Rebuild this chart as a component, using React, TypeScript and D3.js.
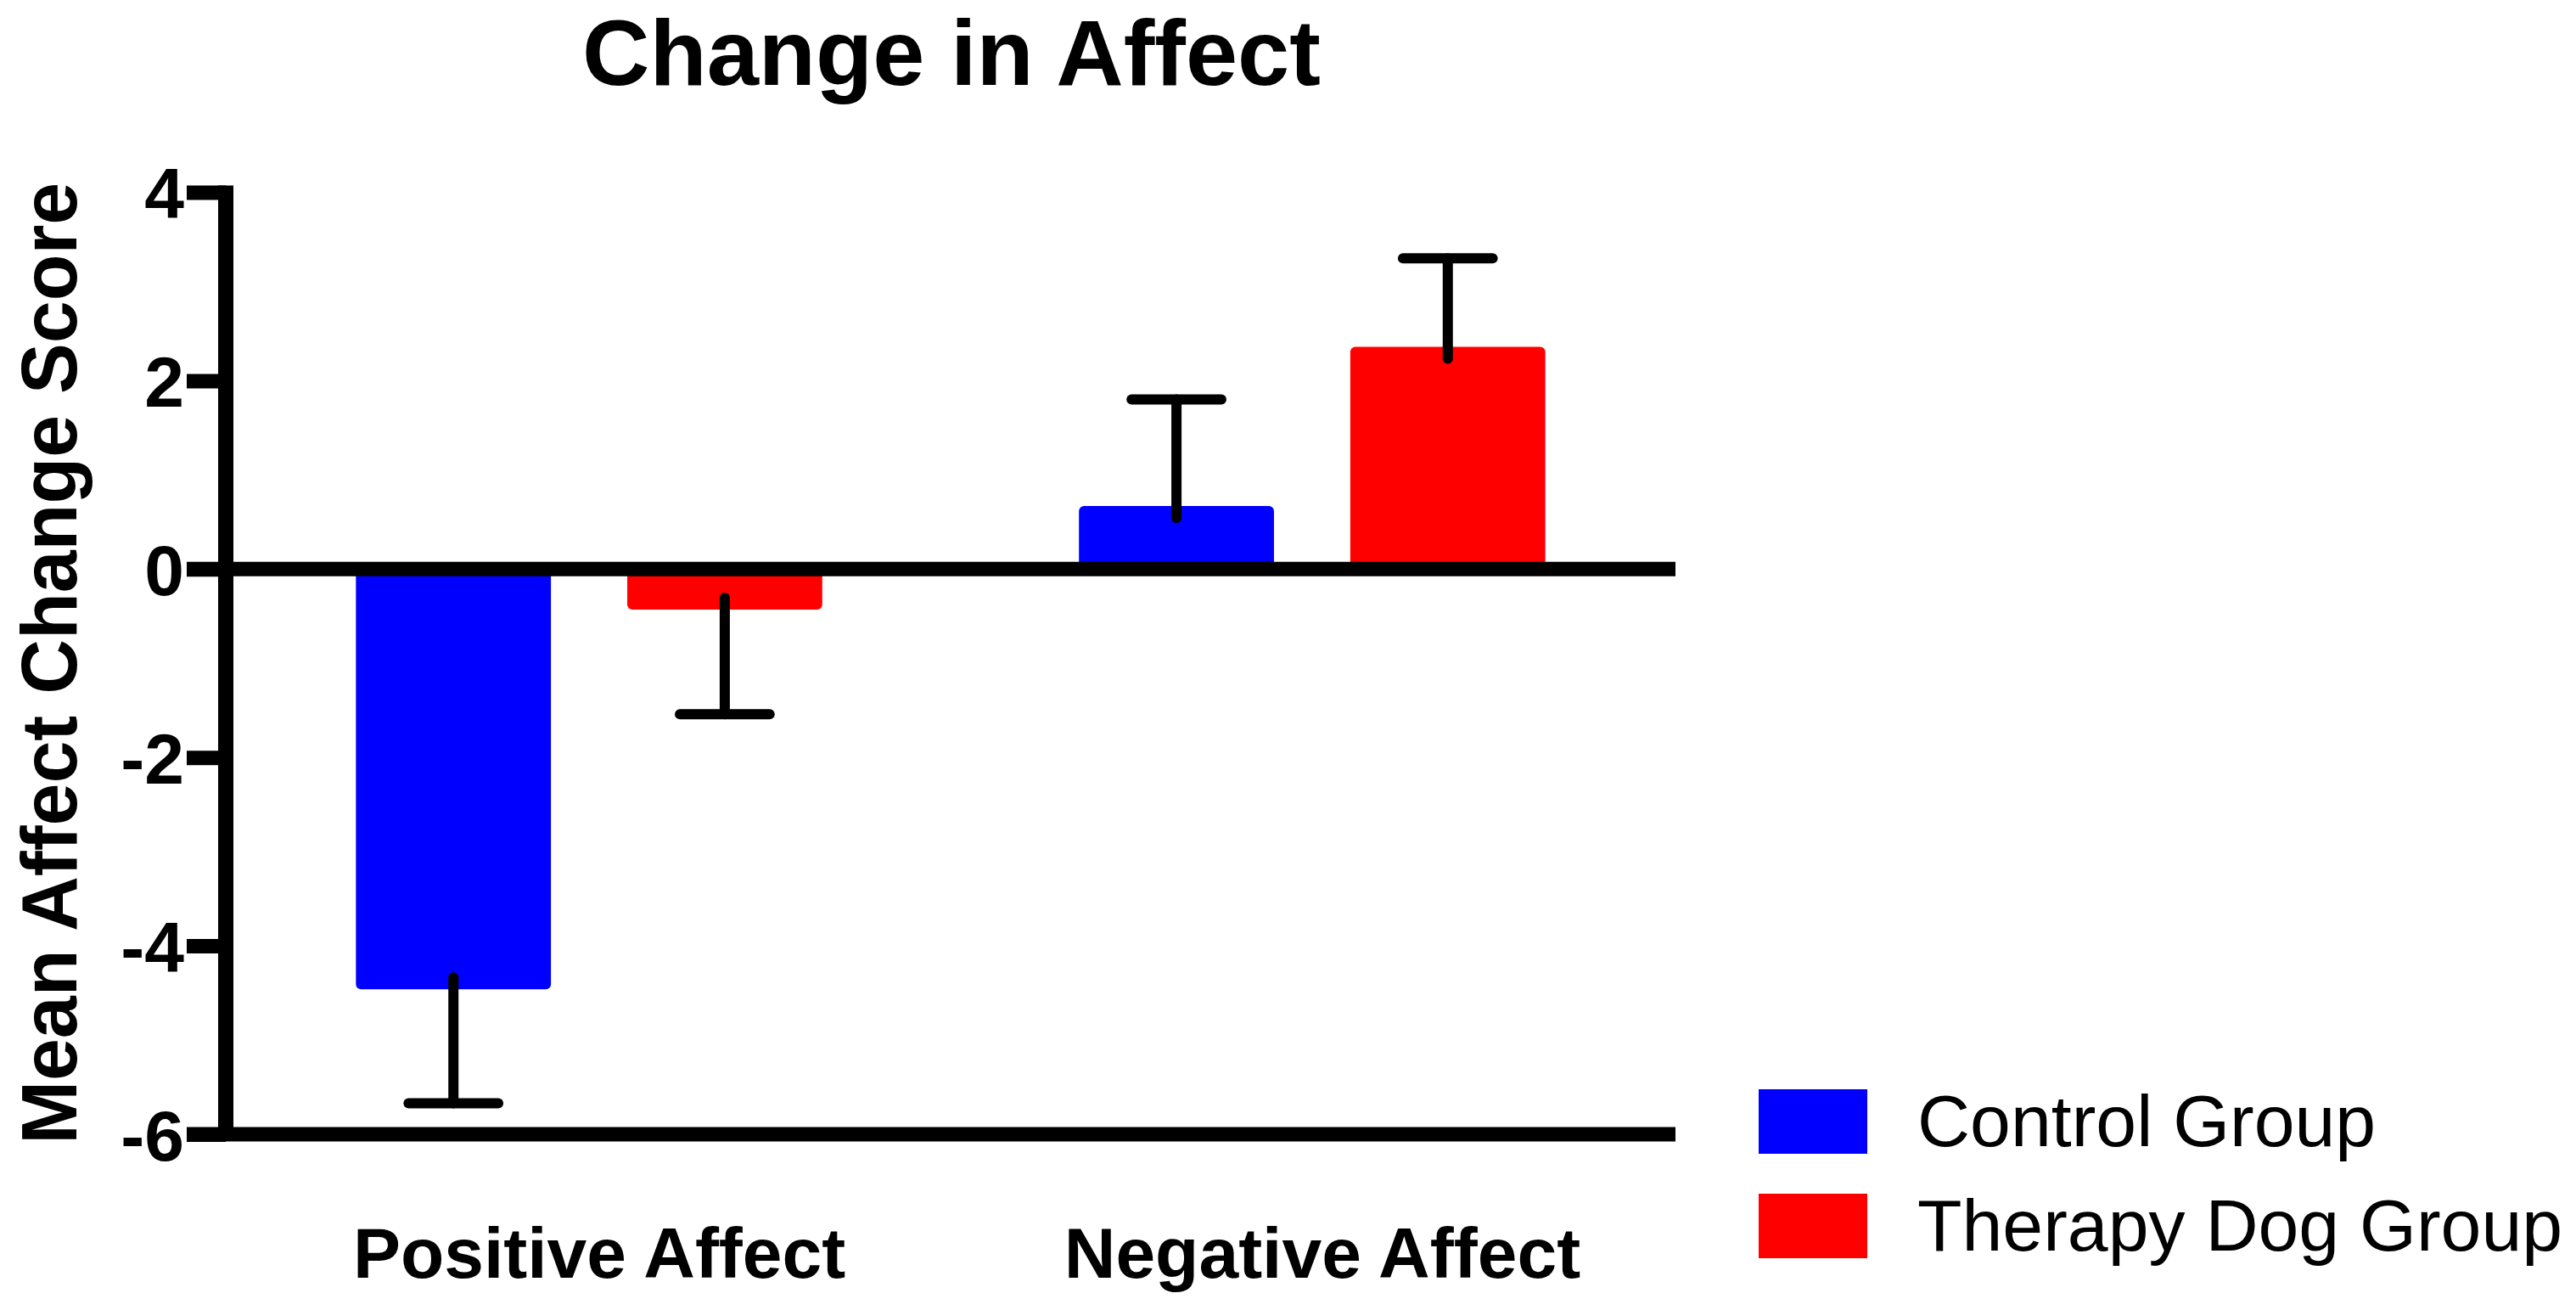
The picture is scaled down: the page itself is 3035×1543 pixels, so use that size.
import React, { useEffect, useRef } from 'react';
import * as d3 from 'd3';

const categories = ['Positive Affect', 'Negative Affect'];
const groups = ['Control Group', 'Therapy Dog Group'];
const controlMeans = [-4.46, 0.67];
const controlSem = [1.21, 1.13];
const therapyMeans = [-0.43, 2.36];
const therapySem = [1.11, 0.94];
const yTicks = [-6, -4, -2, 0, 2, 4];

const FONT = '"Liberation Sans", Arial, sans-serif';

export default function App() {
  const svgRef = useRef<SVGSVGElement>(null);

  useEffect(() => {
    if (!svgRef.current) return;
    const svg = d3.select(svgRef.current);
    svg.selectAll('*').remove();

    const W = 3035;
    const H = 1543;
    const axisX = 266;
    const plotRight = 1974;

    svg.append('rect').attr('width', W).attr('height', H).attr('fill', '#fff');

    // Scales
    const y = d3.scaleLinear().domain([-6, 4]).range([1336, 226.5]);

    const x0 = d3.scaleBand()
      .domain(categories)
      .range([axisX, plotRight])
      .paddingInner(0.355)
      .paddingOuter(0.18);

    const x1 = d3.scaleBand()
      .domain(groups)
      .range([0, x0.bandwidth()])
      .paddingInner(0.28125);

    const color = d3.scaleOrdinal<string, string>()
      .domain(groups)
      .range(['#0000ff', '#ff0000']);

    const rows = categories.flatMap((c, i) => [
      { cat: c, group: groups[0], mean: controlMeans[i], sem: controlSem[i] },
      { cat: c, group: groups[1], mean: therapyMeans[i], sem: therapySem[i] },
    ]);

    // Bars
    svg.append('g')
      .selectAll('rect')
      .data(rows)
      .enter()
      .append('rect')
      .attr('x', d => x0(d.cat)! + x1(d.group)!)
      .attr('width', x1.bandwidth())
      .attr('y', d => Math.min(y(d.mean), y(0)))
      .attr('height', d => Math.abs(y(d.mean) - y(0)))
      .attr('rx', 6)
      .attr('fill', d => color(d.group));

    // Error bars (one-sided, away from zero)
    const eb = svg.append('g')
      .attr('stroke', '#000')
      .attr('stroke-width', 12)
      .attr('stroke-linecap', 'round');

    rows.forEach(d => {
      const cx = x0(d.cat)! + x1(d.group)! + x1.bandwidth() / 2;
      const dir = d.mean < 0 ? -1 : 1;
      const end = d.mean + dir * d.sem;
      const half = x1.bandwidth() * 0.23;
      eb.append('line')
        .attr('x1', cx).attr('x2', cx)
        .attr('y1', y(d.mean) + dir * 14)
        .attr('y2', y(end));
      eb.append('line')
        .attr('x1', cx - half).attr('x2', cx + half)
        .attr('y1', y(end)).attr('y2', y(end));
    });

    // Y axis ticks and labels
    const yAxis = d3.axisLeft(y)
      .tickValues(yTicks)
      .tickFormat(d => String(d))
      .tickSize(46)
      .tickSizeOuter(0)
      .tickPadding(3);

    const gy = svg.append('g')
      .attr('transform', `translate(${axisX},0)`)
      .call(yAxis);
    gy.select('.domain').remove();
    gy.selectAll('.tick line')
      .attr('stroke', '#000')
      .attr('stroke-width', 17);
    gy.selectAll('.tick text')
      .attr('fill', '#000')
      .attr('dy', '0.36em')
      .style('font-family', FONT)
      .style('font-weight', 'bold')
      .style('font-size', '84px');

    // Axis lines
    svg.append('line')
      .attr('x1', axisX).attr('x2', axisX)
      .attr('y1', y(4) - 8).attr('y2', y(-6) + 8)
      .attr('stroke', '#000').attr('stroke-width', 18);

    [0, -6].forEach(v => {
      svg.append('line')
        .attr('x1', axisX - 46).attr('x2', plotRight)
        .attr('y1', y(v)).attr('y2', y(v))
        .attr('stroke', '#000').attr('stroke-width', 17);
    });

    // Category labels
    svg.append('g')
      .selectAll('text')
      .data(categories)
      .enter()
      .append('text')
      .attr('x', d => x0(d)! + x0.bandwidth() / 2 + 12)
      .attr('y', 1505)
      .attr('text-anchor', 'middle')
      .style('font-family', FONT)
      .style('font-weight', 'bold')
      .style('font-size', '84px')
      .text(d => d);

    // Y axis title
    svg.append('text')
      .attr('transform', `translate(90,${(y(4) + y(-6)) / 2}) rotate(-90)`)
      .attr('text-anchor', 'middle')
      .attr('textLength', 1133)
      .attr('lengthAdjust', 'spacingAndGlyphs')
      .style('font-family', FONT)
      .style('font-weight', 'bold')
      .style('font-size', '93px')
      .text('Mean Affect Change Score');

    // Title
    svg.append('text')
      .attr('x', 1121)
      .attr('y', 100)
      .attr('text-anchor', 'middle')
      .style('font-family', FONT)
      .style('font-weight', 'bold')
      .style('font-size', '110px')
      .text('Change in Affect');

    // Legend
    const legend = svg.append('g')
      .selectAll('g')
      .data(groups)
      .enter()
      .append('g')
      .attr('transform', (_, i) => `translate(2072,${1283 + i * 123})`);

    legend.append('rect')
      .attr('width', 128)
      .attr('height', 76)
      .attr('fill', d => color(d));

    legend.append('text')
      .attr('x', 187)
      .attr('y', 67)
      .style('font-family', FONT)
      .style('font-size', '86px')
      .text(d => d);
  }, []);

  return (
    <svg
      ref={svgRef}
      width={3035}
      height={1543}
      style={{ position: 'absolute', left: 0, top: 0, display: 'block' }}
    />
  );
}
